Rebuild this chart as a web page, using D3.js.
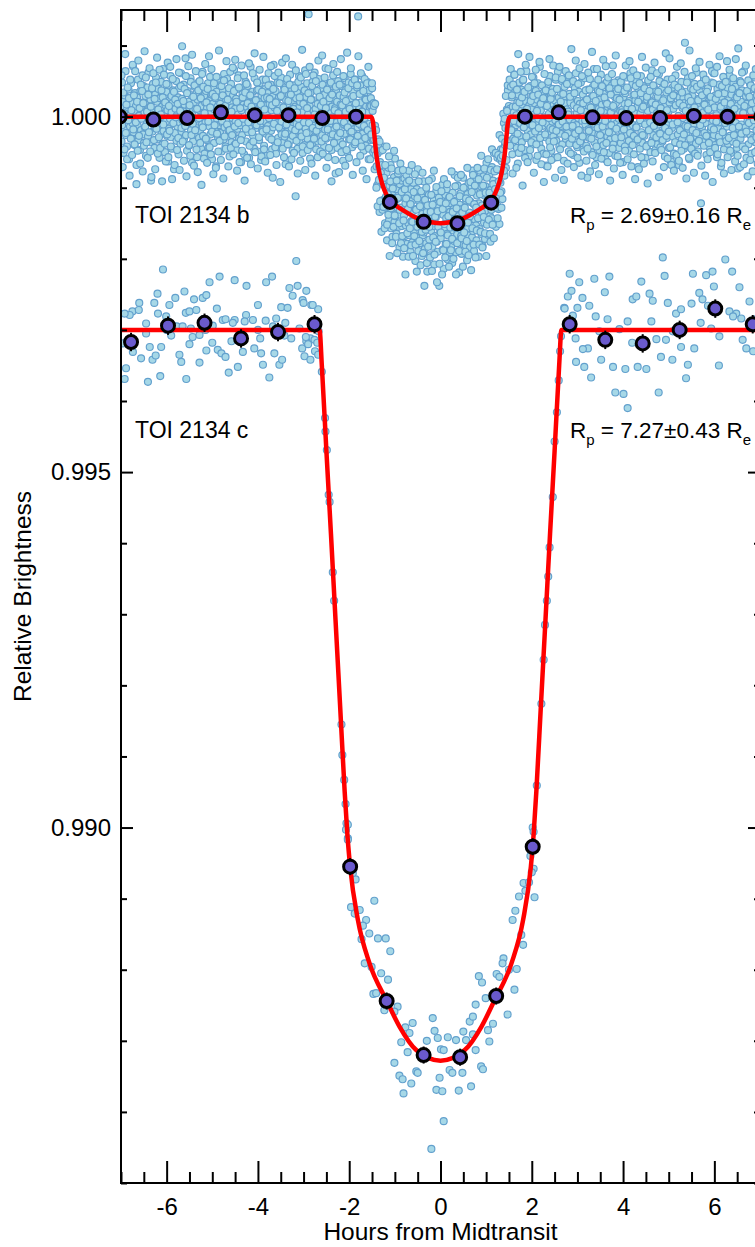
<!DOCTYPE html>
<html>
<head>
<meta charset="utf-8">
<script src="https://cdn.jsdelivr.net/npm/d3@7"></script>
<style>
  html, body { margin: 0; padding: 0; background: #fff; }
  svg { display: block; }
  text { font-family: "Liberation Sans", Arial, Helvetica, sans-serif; fill: #000; }
</style>
</head>
<body>
<svg id="chart" width="755" height="1247"></svg>
<script>
// Flux offsets are stored relative to 1.0 in units of 1e-5 (10 ppm).
const FLUX_UNIT = 1e-5;

// ---------- TOI 2134 b : phase-folded photometry, two sectors, three time segments each ----------
const bPreSpan = [-7.0, -1.53];
const bPreFlux = [
  12,-35,48,-7,22,-51,3,30,-18,64,-26,9,-42,17,-3,38,-60,25,-14,5,47,-30,19,-9,71,
  -22,8,-40,33,-5,15,-68,27,-12,52,-33,1,20,-47,36,-19,11,-2,58,-25,43,-37,6,-15,29,
  -55,18,-8,41,-28,62,-4,13,-36,24,-90,7,34,-21,46,-11,2,-44,31,-16,55,-6,21,-32,10,
  39,-13,-58,26,-1,49,-24,14,-39,67,-20,4,28,-50,16,-7,35,-27,9,-63,44,-17,23,-3,57,
  -29,6,-45,19,37,-10,-74,32,-23,11,50,-34,2,-14,27,-53,40,-8,15,-38,61,-21,25,-5,8,
  45,-31,17,-12,82,-26,3,-48,36,-9,21,-41,13,-2,54,-19,30,-65,7,-35,18,-6,42,-24,11,
  -16,33,-57,24,-4,48,-30,9,-20,38,-45,15,-11,63,-27,5,29,-52,20,-8,36,-33,12,-1,47,
  -43,22,-14,56,-25,7,31,-60,18,-6,40,-37,10,-18,26,-70,35,-3,14,-29,51,-12,44,-23,2,
  28,-49,16,-9,37,-32,60,-15,4,-42,23,-5,53,-28,8,-19,34,-56,19,-11,46,-36,13,-2,30,
  -24,66,-40,11,-7,25,-47,39,-17,3,58,-31,20,-12,41,-64,9,-26,32,-4,17,-53,27,-10,49,
  -35,14,-3,43,-22,6,-58,29,-14,70,-38,12,-8,35,-27,19,-45,54,-6,24,-16,2,37,-49,10,
  21,-33,47,-11,8,-61,30,-19,52,-2,16,-41,26,-7,39,-24,5,-55,33,-13,61,-29,18,-4,45,
  -20,9,-46,28,-15,73,-34,13,-5,36,-52,22,-9,48,-30,1,27,-43,15,-18,55,-25,7,-37,32,
  -12,41,-28,4,-67,23,-6,50,-21,17,-39,31,-1,59,-33,10,-16,38,-48,20,-8,44,-27,14,-112,
  26,-10,35,-45,12,-3,57,-36,21,-14,42,-23,6,-51,30,-9,19,-40,65,-17,28,-6,47,-31,3,
  144,-22,15,-59,34,-7,24,-38,49,-13,8,-29,62,-20,11,-46,37,-4,18,-35,53,-15,27,-2,40,
  -54,16,-26,45,-10,3,-42,31,-18,68,-31,9,-6,39,-57,22,-12,46,-28,5,33,-47,14,-1,58,
  -19,25,-37,12,-80,36,-8,21,-44,50,-16,2,30,-34,17,-5,43,-26,10,-62,28,-11,54,-24,7,
  38,-14,-50,23,-3,48,-32,15,-21,60,-9,26,-43,4,35,-18,13,-39,52,-7,19,-30,41,-15,141,
  -27,11,-6,44,-36,20,-13,57,-24,8,-48,32,-2,25,-41,14,-17,49,-29,6,-60,37,-10,22,-33
];
const bInSpan = [-1.52, 1.52];
const bInFlux = [
  15,-30,40,-12,-33,19,-32,-74,-13,-45,
  -19,-70,-97,-52,-32,-93,-70,-134,-64,-94,
  -48,-118,-81,-131,-95,-42,-117,-80,-150,-99,
  -128,-79,-174,-98,-118,-72,-146,-97,-129,-68,
  -157,-113,-93,-169,-105,-129,-85,-148,-59,-140,
  -102,-165,-116,-128,-80,-155,-114,-184,-95,-138,
  -128,-90,-154,-112,-197,-103,-139,-87,-168,-122,
  -153,-82,-179,-131,-110,-150,-76,-167,-123,-190,
  -102,-147,-119,-177,-133,-93,-164,-144,-112,-203,
  -130,-170,-102,-155,-74,-189,-143,-120,-178,-128,
  -149,-112,-196,-137,-167,-91,-163,-118,-186,-141,
  -105,-178,-134,-218,-124,-157,-110,-173,-145,-195,
  -129,-161,-87,-183,-139,-154,-118,-208,-123,-168,
  -142,-105,-176,-135,-190,-128,-153,-238,-114,-162,
  -171,-117,-156,-96,-187,-138,-214,-125,-160,-110,
  -179,-143,-102,-165,-201,-129,-150,-114,-191,-134,
  -122,-183,-145,-206,-107,-160,-130,-175,-82,-156,
  -136,-191,-118,-166,-97,-177,-140,-219,-124,-150,
  -108,-168,-193,-130,-153,-86,-180,-134,-157,-99,
  -181,-118,-144,-202,-109,-157,-94,-167,-135,-184,
  -120,-144,-98,-170,-76,-161,-123,-189,-107,-145,
  -86,-153,-174,-111,-134,-97,-197,-122,-158,-76,
  -143,-98,-165,-125,-182,-107,-84,-149,-111,-172,
  -98,-133,-65,-152,-112,-166,-104,-124,-81,-140,
  -176,-103,-143,-71,-121,-90,-152,-51,-128,-103,
  -76,-155,-94,-124,-58,-111,-130,-75,-151,-60,
  -93,-46,-105,-63,-116,-46,-77,-9,-83,-40,
  -16,-72,-38,10,-34,37,-10,15,-34,11
];
const bPostSpan = [1.53, 7.0];
const bPostFlux = [
  -18,42,-7,27,-53,14,-31,6,59,-22,35,-12,2,-44,20,-66,31,-9,48,-27,13,-4,38,-36,17,
  51,-15,-2,29,-47,22,-11,64,-30,8,-20,37,-56,16,-6,43,-25,10,-40,28,-14,55,-33,3,19,
  -8,36,-61,24,-17,47,-3,12,-38,70,-26,9,-45,21,-13,33,-52,18,-1,41,-29,15,-69,26,-10,
  45,-21,4,-35,57,-16,30,-48,11,-7,39,-28,17,-58,23,-5,52,-34,14,-19,63,-11,27,-42,6,
  -24,34,-13,50,-39,1,25,-62,19,-8,44,-31,10,-17,56,-23,7,-49,32,-4,20,-37,46,-15,2,
  29,-54,16,-9,40,-27,61,-12,5,-43,22,-2,35,-65,18,-20,48,-33,9,-6,31,-46,13,-28,54,
  -11,23,-41,7,-86,38,-18,15,-30,53,-7,26,-50,12,-3,42,-22,67,-36,4,-15,29,-57,20,-9,
  37,-25,11,-47,24,-4,59,-34,17,-13,45,-40,8,-21,32,-60,21,-7,49,-28,14,-2,38,-51,16,
  -32,6,-16,44,-23,72,-39,13,-5,28,-55,19,-10,35,-29,3,51,-44,25,-14,8,-37,47,-20,10,
  -64,27,-8,18,-42,33,-1,55,-26,12,-18,40,-48,22,-6,61,-31,9,-24,46,-12,30,-53,5,-35,
  23,-15,50,-30,14,-71,36,-10,20,-45,4,57,-22,11,-37,27,-3,43,-27,16,-58,34,-9,24,-40,
  8,49,-19,-2,31,-50,19,-14,65,-33,10,-26,41,-7,22,-47,37,-17,5,-39,28,-11,60,-24,13,
  -43,18,-6,39,-35,2,47,-21,26,-56,15,-9,34,-30,52,-12,7,-44,20,-3,36,-63,24,-16,41,
  -28,11,-52,30,-4,58,-37,16,-11,43,-25,1,-68,27,-19,38,-8,49,-32,12,-2,26,-45,19,104,
  -13,35,-24,7,-41,54,-17,21,-60,13,-5,40,-34,9,29,-48,17,-10,46,-27,3,-38,62,-20,14,
  -49,25,-7,37,-31,10,-122,44,-15,22,-36,6,53,-23,18,-9,32,-54,12,-1,40,-28,15,-43,27,
  9,-18,48,-34,20,-5,61,-26,13,-40,30,-12,2,-57,39,-16,24,-8,45,-33,11,-70,28,-3,36,
  -21,16,-46,33,-10,52,-29,7,-14,41,-38,23,-2,58,-27,12,-51,31,-6,19,-35,47,-13,4,-25,
  42,-9,28,-44,15,-73,34,-17,6,50,-31,21,-11,37,-20,3,-42,64,-24,10,-15,29,-58,18,-6,
  33,-39,12,-1,46,-26,8,-52,24,-13,39,-30,17,-4,55,-36,11,-19,30,-47,22,-7,43,-28,146
];

// second sector
const bPreSpan2 = [-6.99, -1.525];
const bPreFlux2 = [
  58,-12,-71,34,5,-46,88,-23,17,-60,41,-5,26,-83,52,-31,9,-54,73,-18,30,-39,64,-8,-95,
  21,-48,79,-27,12,-66,45,-3,36,-77,19,-41,92,-14,55,-36,7,-58,31,-22,68,-49,14,-85,40,
  -6,61,-33,25,-74,48,-17,83,-52,10,-29,66,-44,3,37,-91,27,-11,59,-38,20,-63,46,-25,76,
  -57,15,-20,70,-42,29,-88,53,-9,35,-68,24,-1,81,-47,18,-30,62,-75,8,43,-16,99,-35,22,
  -62,39,-13,57,-84,33,-4,71,-40,16,-55,49,-26,87,-10,28,-69,44,-19,64,-46,11,-78,37,-2,
  50,-37,26,-96,60,-15,42,-59,5,74,-31,20,-65,39,-7,85,-43,13,-53,67,-21,32,-81,47,-12,
  28,-72,56,-24,9,-49,93,-34,18,-61,43,-6,30,-87,51,-28,15,-45,78,-11,24,-70,40,-19,63,
  -44,7,-26,69,-53,36,-14,80,-38,21,-76,54,-9,41,-64,12,-33,72,-48,27,-3,58,-90,34,-17,
  46,-58,19,-8,75,-41,30,-67,14,-22,61,-35,4,89,-50,23,-12,48,-73,38,-29,66,-6,17,-56,
  35,-21,84,-46,10,-63,52,-18,27,-79,44,-2,25,-54,71,-32,16,-86,39,-10,57,-43,20,-68,8,
  -36,62,-15,47,-92,29,-7,76,-45,13,-57,38,-24,82,-11,53,-39,22,-70,45,-4,31,-60,73,-27,
  11,-51,40,-19,65,-34,6,-80,49,-13,27,-62,55,-28,94,-42,18,-8,37,-75,60,-23,12,-47,33,
  -9,70,-40,24,-66,43,-16,58,-31,3,-83,50,-20,36,-57,79,-12,28,-49,15,-35,86,-52,21,-4,
  55,-30,12,-72,38,-18,67,-44,26,-6,48,-91,31,-25,74,-37,9,-61,42,-14,63,-28,5,-78,45,
  -23,81,-50,16,-39,57,-8,34,-69,22,-47,90,-15,40,-58,11,-32,68,-21,47,-82,29,-5,52,-36,
  19,-64,44,-27,85,-10,32,-55,61,-42,7,-76,36,-13,53,-30,24,-88,47,-19,70,-45,14,-60,26
];
const bInSpan2 = [-1.515, 1.515];
const bInFlux2 = [
  -25,47,8,-50,15,-47,18,-54,-100,-37,
  -126,-39,-89,-35,-119,-79,-162,-68,-47,-127,
  -86,-157,-68,-113,-42,-152,-109,-138,-56,-196,
  -91,-129,-73,-178,-101,-155,-48,-139,-116,-169,
  -90,-192,-114,-76,-150,-131,-66,-178,-106,-168,
  -75,-146,-185,-102,-222,-115,-93,-164,-130,-197,
  -90,-157,-123,-181,-68,-148,-196,-106,-168,-81,
  -180,-131,-218,-115,-147,-91,-175,-126,-209,-105,
  -162,-79,-192,-142,-238,-117,-159,-100,-206,-125,
  -183,-90,-155,-198,-134,-110,-217,-124,-170,-76,
  -194,-141,-176,-99,-233,-133,-155,-114,-207,-120,
  -163,-105,-222,-130,-188,-88,-151,-198,-122,-179,
  -95,-167,-140,-211,-113,-156,-188,-77,-172,-134,
  -200,-120,-156,-98,-222,-129,-178,-86,-150,-189,
  -112,-158,-82,-171,-135,-211,-100,-163,-128,-190,
  -115,-175,-72,-149,-195,-118,-140,-92,-216,-106,
  -157,-82,-180,-123,-97,-198,-128,-160,-72,-143,
  -88,-180,-109,-162,-55,-135,-184,-97,-141,-73,
  -164,-107,-196,-86,-124,-60,-145,-107,-165,-75,
  -131,-46,-152,-95,-171,-77,-102,-51,-128,-74,
  -143,-54,-91,-26,-107,-58,-128,-31,-55,4,
  -76,-3,-36,29,-61,8,44,-17,-35,52
];
const bPostSpan2 = [1.525, 6.99];
const bPostFlux2 = [
  -41,67,-19,30,-80,45,-6,59,-33,14,-72,38,-24,88,-51,20,-9,63,-44,27,-97,52,-15,35,-58,
  73,-28,11,-64,41,-3,84,-47,22,-36,56,-12,29,-79,47,-21,66,-39,8,-55,31,-16,77,-30,18,
  -67,44,-8,26,-92,60,-25,37,-53,15,-70,49,-2,81,-43,25,-61,34,-18,72,-35,10,-86,55,-20,
  39,-57,16,-11,70,-46,21,-75,53,-7,32,-89,42,-27,64,-14,46,-66,3,58,-38,28,-52,95,-31,
  -13,50,-71,33,-24,79,-40,12,-58,46,-19,68,-35,9,-83,57,-28,19,-49,74,-5,37,-62,24,-45,
  62,-20,38,-77,13,-31,91,-54,29,-10,45,-68,22,-42,67,-16,52,-81,35,-26,8,-59,43,-14,80,
  -50,27,-6,71,-37,18,-64,55,-22,40,-90,31,-12,60,-45,15,-73,48,-30,86,-17,26,-56,39,-3,
  24,-65,49,-29,6,-82,57,-18,36,-48,72,-9,41,-60,19,-34,78,-23,54,-70,11,-40,65,-27,31,
  -88,43,-15,58,-32,21,-74,47,-5,33,-57,84,-26,14,-66,40,-11,69,-42,28,-94,51,-19,36,-8,
  56,-37,20,-63,44,-13,76,-51,17,-29,61,-4,35,-85,50,-24,12,-47,66,-33,23,-71,46,-16,89,
  -27,9,-59,37,-21,82,-43,26,-68,53,-11,30,-76,45,-36,16,-54,70,-8,41,-62,19,-39,75,-48,
  34,-72,15,-25,63,-40,8,-87,48,-14,27,-58,93,-31,22,-45,57,-19,38,-79,13,-52,68,-23,42,
  -55,23,-34,77,-12,46,-69,30,-4,59,-41,17,-83,52,-27,35,-60,10,-37,73,-50,28,-15,64,-92,
  47,-18,61,-44,25,-7,70,-53,32,-28,85,-36,14,-65,43,-22,56,-80,20,-9,49,-34,78,-57,7,
  -30,66,-48,18,-75,39,-16,54,-26,11,-63,81,-38,27,-55,96,-14,33,-71,48,-24,62,-42,5,-67,
  15,-46,72,-21,36,-84,51,-9,28,-61,44,-33,19,-77,58,-5,40,-50,67,-29,22,-66,37,-12,59
];

// Binned TOI 2134 b points (hours, flux offset, 1-sigma)
const bBinTime = [-7.03,-6.29,-5.55,-4.81,-4.07,-3.33,-2.59,-1.85,-1.11,-0.37,0.37,1.11,1.85,2.59,3.33,4.07,4.81,5.55,6.29,7.03];
const bBinFlux = [0,-4,-2,6,2,2,-2,0,-120,-148,-150,-121,0,6,-1,-2,-2,1,0,0];
const bBinErr  = [4,4,4,4,4,4,4,4,5,5,5,5,4,4,4,4,4,4,4,4];

// Transit model for TOI 2134 b
const bModelTime = [-7,-1.52,-1.48,-1.45,-1.41,-1.36,-1.31,-1.26,-1.19,-1.12,-1.0,-0.79,-0.6,-0.42,-0.2,0,
                    0.2,0.42,0.6,0.79,1.0,1.12,1.19,1.26,1.31,1.36,1.41,1.45,1.48,1.52,7];
const bModelFlux = [0,0,-7,-25,-51,-72,-87,-98,-109,-117,-124,-133,-140,-145,-148.5,-150,
                    -148.5,-145,-140,-133,-124,-117,-109,-98,-87,-72,-51,-25,-7,0,0];

// ---------- TOI 2134 c : individual points (hours, flux offset) ----------
const cTime = [
  -6.08,-3.16,-4.84,-5.06,-4.51,-4.25,-3.69,-3.82,-5.61,-5.81,-6.27,-5.94,-6.75,-6.81,-6.61,-6.92,-5.58,-5.50,-5.35,-5.21,
  -5.13,-5.40,-4.00,-4.26,-4.51,-4.77,-3.31,-3.24,-3.13,-2.94,-3.02,-2.83,-2.68,-3.49,-3.35,-6.45,-6.19,-6.01,-5.78,-5.65,
  -5.47,-5.43,-5.28,-5.15,-4.99,-4.71,-4.55,-4.29,-4.11,-3.83,-3.67,-3.42,-3.27,-3.09,-2.85,-2.94,-2.76,-2.67,-6.96,-6.74,
  -6.56,-6.37,-6.31,-6.24,-6.12,-5.72,-5.68,-5.28,-5.13,-4.88,-4.80,-4.71,-4.58,-4.44,-4.33,-4.08,-3.93,-3.89,-3.64,-3.53,
  -3.47,-3.03,-2.98,-6.89,-6.92,-6.41,-6.14,-5.57,-4.64,-3.75,-6.60,-6.20,-5.90,-5.00,-4.40,-4.00,-3.60,-3.40,-5.50,-6.00,
  -4.90,-3.95,-2.80,-6.45,-5.20,-2.90,-2.75,-2.70,-2.68,-2.85,-2.95,-3.00,-2.80,
  -2.60,-2.53,-2.52,-2.49,-2.45,-2.43,-2.36,-2.33,-2.17,-2.15,-2.11,-2.08,-2.06,-2.03,
  -2.03,-2.07,-2.03,-1.86,-1.92,-1.45,-1.96,-1.77,-1.88,-1.63,-1.70,-1.73,-1.56,-1.37,-1.20,-1.10,-1.66,-1.51,-1.30,-1.15,
  -1.47,-1.41,-1.23,-0.94,-1.01,-0.61,-0.77,-0.86,-0.68,-0.72,-1.01,-0.90,-0.83,-0.64,-0.81,-0.53,-0.50,-0.30,-0.17,-0.13,
  -0.06,0.01,0.07,0.16,0.34,0.50,0.56,0.71,0.77,0.20,0.26,0.48,-0.02,-0.09,0.04,0.40,0.67,0.89,0.93,0.07,
  -0.20,0.64,1.04,1.07,1.15,1.47,0.99,0.84,0.91,0.77,0.71,1.23,1.29,1.38,1.50,1.67,1.62,1.36,1.58,1.64,
  1.77,1.81,1.72,1.82,1.94,1.86,2.06,2.04,2.02,
  2.64,2.62,2.59,2.55,2.50,2.46,2.39,2.36,2.33,2.29,2.26,2.21,2.11,2.04,1.97,2.00,
  4.87,2.83,3.04,3.37,3.70,4.91,5.53,5.82,5.96,6.24,6.39,2.79,2.87,3.11,2.71,3.00,3.26,3.40,3.66,4.21,
  4.29,4.58,4.65,4.98,5.16,5.27,5.67,5.74,5.86,5.99,6.33,6.48,6.59,6.77,2.96,3.23,3.48,3.92,4.10,4.62,
  4.73,4.94,5.27,5.56,5.93,6.11,6.62,6.70,2.97,3.15,3.52,3.78,4.05,4.32,4.51,4.83,5.08,5.42,5.38,3.30,
  3.83,4.01,4.10,4.78,3.12,5.09,6.41,6.55,6.85,6.10,5.70,5.50,4.40,3.60,2.90,4.20,6.90,2.72
];
const cFlux = [
  -215,-203,-225,-233,-230,-238,-225,-233,-246,-255,-262,-265,-274,-279,-272,-277,-276,-274,-272,-255,
  -251,-257,-265,-279,-286,-286,-241,-252,-238,-245,-258,-265,-271,-268,-269,-291,-277,-281,-295,-295,
  -298,-310,-307,-300,-294,-285,-290,-288,-286,-287,-295,-308,-312,-298,-312,-316,-314,-302,-319,-331,
  -340,-324,-342,-336,-324,-335,-345,-346,-329,-328,-333,-338,-316,-352,-331,-326,-333,-349,-333,-349,
  -342,-326,-337,-354,-369,-373,-365,-369,-360,-367,-262,-249,-308,-318,-305,-300,-284,-290,-320,-300,
  -270,-312,-290,-305,-285,-320,-330,-318,-335,-342,-310,-262,-265,
  -359,-424,-443,-469,-532,-542,-641,-681,-855,-898,-933,-967,-994,-1015,
  -996,-1003,-1017,-1073,-1064,-1103,-1112,-1116,-1121,-1130,-1138,-1157,-1149,-1156,-1156,-1174,-1191,-1196,-1205,-1214,
  -1234,-1233,-1257,-1252,-1259,-1275,-1281,-1302,-1289,-1316,-1331,-1349,-1354,-1360,-1374,-1343,-1345,-1300,-1268,-1286,
  -1296,-1312,-1313,-1295,-1299,-1287,-1299,-1291,-1313,-1341,-1345,-1345,-1352,-1369,-1371,-1370,-1364,-1336,-1340,-1413,
  -1452,-1273,-1285,-1301,-1276,-1263,-1240,-1209,-1218,-1249,-1266,-1206,-1210,-1184,-1200,-1199,-1228,-1191,-1130,-1117,
  -1151,-1165,-1097,-1078,-1077,-1089,-1098,-1058,-1000,
  -309,-330,-371,-416,-457,-535,-606,-647,-681,-715,-764,-826,-941,-1006,-1040,-1063,
  -198,-221,-233,-228,-225,-224,-221,-223,-218,-201,-218,-253,-245,-255,-269,-269,-266,-281,-285,-257,
  -253,-249,-259,-262,-277,-271,-248,-257,-266,-239,-274,-277,-284,-260,-312,-326,-302,-299,-288,-288,
  -313,-314,-324,-326,-298,-309,-314,-326,-345,-352,-342,-352,-355,-352,-355,-338,-342,-349,-368,-367,
  -388,-390,-410,-388,-327,-302,-281,-240,-330,-350,-290,-263,-232,-247,-280,-318,-285,-270
];

// Binned TOI 2134 c points
const cBinTime = [-6.78,-5.97,-5.17,-4.37,-3.56,-2.76,-1.98,-1.18,-0.37,0.43,1.22,2.02,2.83,3.61,4.43,5.24,6.02,6.84];
const cBinFlux = [-317,-294,-290,-312,-303,-292,-1055,-1244,-1320,-1323,-1237,-1027,-292,-314,-319,-300,-270,-292];
const cBinErr  = [13,13,13,13,13,13,12,12,12,12,12,12,13,13,13,13,13,13];

// Transit model for TOI 2134 c
const cModelTime = [-7,-2.65,-2.60,-2.50,-2.40,-2.30,-2.20,-2.10,-2.04,-1.98,-1.81,-1.555,-1.176,-0.898,-0.532,0,
                    0.532,0.898,1.176,1.555,1.81,1.98,2.04,2.10,2.20,2.30,2.40,2.50,2.60,2.65,7];
const cModelFlux = [-300,-300,-350,-470,-587,-708,-828,-949,-1010,-1055,-1130,-1191,-1244,-1280,-1313,-1328,
                    -1313,-1280,-1244,-1191,-1130,-1055,-1010,-949,-828,-708,-587,-470,-350,-300,-300];

// Axis ticks and labels
const xTickValues = [-6,-4,-2,0,2,4,6];
const xTickLabels = ["-6","-4","-2","0","2","4","6"];
const yTickValues = [0.990,0.995,1.000];
const yTickLabels = ["0.990","0.995","1.000"];
const planetNames = ["TOI 2134 b","TOI 2134 c"];
const planetRadii = ["2.69\u00b10.16","7.27\u00b10.43"];
const xTitle = "Hours from Midtransit";
const yTitle = "Relative Brightness";

// ---------------------------------------------------------------------------
const svg = d3.select("#chart");
const box = { left: 121, right: 760, top: 10, bottom: 1183 };

const x = d3.scaleLinear().domain([-7, 7]).range([box.left, box.right]);
const y = d3.scaleLinear().domain([0.985, 1.0015]).range([box.bottom, box.top]);
const flux = v => 1 + v * FLUX_UNIT;

svg.append("defs").append("clipPath").attr("id", "plotClip")
  .append("rect")
  .attr("x", box.left).attr("y", box.top)
  .attr("width", box.right - box.left).attr("height", box.bottom - box.top);

const plot = svg.append("g").attr("clip-path", "url(#plotClip)");

// expand an evenly sampled segment into points
function segment(span, values) {
  const n = values.length;
  return values.map((v, i) => ({ t: span[0] + (span[1] - span[0]) * i / (n - 1), f: flux(v) }));
}
const bPoints = [].concat(
  segment(bPreSpan, bPreFlux), segment(bPreSpan2, bPreFlux2),
  segment(bInSpan, bInFlux), segment(bInSpan2, bInFlux2),
  segment(bPostSpan, bPostFlux), segment(bPostSpan2, bPostFlux2));
const cPoints = cTime.map((t, i) => ({ t, f: flux(cFlux[i]) }));

const rawStyle = sel => sel
  .attr("r", 3.5)
  .attr("fill", "#a6d8e7")
  .attr("stroke", "#62a0cd")
  .attr("stroke-width", 1.15);

plot.append("g").selectAll("circle").data(bPoints).join("circle")
  .attr("cx", d => x(d.t)).attr("cy", d => y(d.f)).call(rawStyle);
plot.append("g").selectAll("circle").data(cPoints).join("circle")
  .attr("cx", d => x(d.t)).attr("cy", d => y(d.f)).call(rawStyle);

// models
const line = d3.line().x(d => x(d.t)).y(d => y(d.f)).curve(d3.curveMonotoneX);
[[bModelTime, bModelFlux], [cModelTime, cModelFlux]].forEach(([ts, fs]) => {
  plot.append("path")
    .datum(ts.map((t, i) => ({ t, f: flux(fs[i]) })))
    .attr("d", line)
    .attr("fill", "none")
    .attr("stroke", "#ff0000")
    .attr("stroke-width", 4.5)
    .attr("stroke-linejoin", "round");
});

// binned points with error bars
[[bBinTime, bBinFlux, bBinErr], [cBinTime, cBinFlux, cBinErr]].forEach(([ts, fs, es]) => {
  const pts = ts.map((t, i) => ({ t, f: flux(fs[i]), e: es[i] * FLUX_UNIT }));
  const g = plot.append("g");
  g.selectAll("line").data(pts).join("line")
    .attr("x1", d => x(d.t)).attr("x2", d => x(d.t))
    .attr("y1", d => y(d.f - d.e)).attr("y2", d => y(d.f + d.e))
    .attr("stroke", "#000").attr("stroke-width", 2);
  g.selectAll("circle").data(pts).join("circle")
    .attr("cx", d => x(d.t)).attr("cy", d => y(d.f))
    .attr("r", 6.5)
    .attr("fill", "#6a5acd")
    .attr("stroke", "#000")
    .attr("stroke-width", 3);
});

// axes with inward ticks
function styleAxis(g) {
  g.select(".domain").remove();
  g.selectAll(".tick line").attr("stroke", "#000").attr("stroke-width", 2);
  g.selectAll(".tick text")
    .attr("font-family", "'Liberation Sans', Arial, Helvetica, sans-serif")
    .attr("font-size", 24).attr("fill", "#000");
}
const xMinor = d3.range(-7, 7.01, 0.5).filter(v => !xTickValues.includes(v));
const yMinor = d3.range(0.985, 1.0016, 0.001).map(v => +v.toFixed(3)).filter(v => !yTickValues.includes(v));

svg.append("g").attr("transform", `translate(0,${box.bottom})`)
  .call(d3.axisBottom(x).tickValues(xTickValues).tickSize(-22).tickPadding(15)
    .tickFormat((d, i) => xTickLabels[i])).call(styleAxis);
svg.append("g").attr("transform", `translate(0,${box.bottom})`)
  .call(d3.axisBottom(x).tickValues(xMinor).tickSize(-11).tickFormat("")).call(styleAxis);
svg.append("g").attr("transform", `translate(0,${box.top})`)
  .call(d3.axisTop(x).tickValues(xTickValues).tickSize(-22).tickFormat("")).call(styleAxis);
svg.append("g").attr("transform", `translate(0,${box.top})`)
  .call(d3.axisTop(x).tickValues(xMinor).tickSize(-11).tickFormat("")).call(styleAxis);

svg.append("g").attr("transform", `translate(${box.left},0)`)
  .call(d3.axisLeft(y).tickValues(yTickValues).tickSize(-12).tickPadding(10)
    .tickFormat((d, i) => yTickLabels[i])).call(styleAxis);
svg.append("g").attr("transform", `translate(${box.left},0)`)
  .call(d3.axisLeft(y).tickValues(yMinor).tickSize(-6).tickFormat("")).call(styleAxis);
svg.append("g").attr("transform", `translate(${box.right},0)`)
  .call(d3.axisRight(y).tickValues(yTickValues).tickSize(-12).tickFormat("")).call(styleAxis);
svg.append("g").attr("transform", `translate(${box.right},0)`)
  .call(d3.axisRight(y).tickValues(yMinor).tickSize(-6).tickFormat("")).call(styleAxis);

// frame
svg.append("rect")
  .attr("x", box.left).attr("y", box.top)
  .attr("width", box.right - box.left).attr("height", box.bottom - box.top)
  .attr("fill", "none").attr("stroke", "#000").attr("stroke-width", 2);

// axis titles
svg.append("text")
  .attr("x", (box.left + box.right) / 2).attr("y", 1240)
  .attr("text-anchor", "middle").attr("font-size", 24.5)
  .text(xTitle);
svg.append("text")
  .attr("transform", `translate(31,${(box.top + box.bottom) / 2}) rotate(-90)`)
  .attr("text-anchor", "middle").attr("font-size", 24.5)
  .text(yTitle);

// planet annotations
const labelRows = [222.7, 438];
planetNames.forEach((name, i) => {
  svg.append("text").attr("x", 135).attr("y", labelRows[i]).attr("font-size", 23).text(name);
  const t = svg.append("text").attr("x", 570).attr("y", labelRows[i]).attr("font-size", 22.5);
  t.append("tspan").text("R");
  t.append("tspan").attr("font-size", 15).attr("dy", 7).text("p");
  t.append("tspan").attr("dy", -7).text(" = " + planetRadii[i] + " R");
  t.append("tspan").attr("font-size", 15).attr("dy", 7).text("e");
});
</script>
</body>
</html>
